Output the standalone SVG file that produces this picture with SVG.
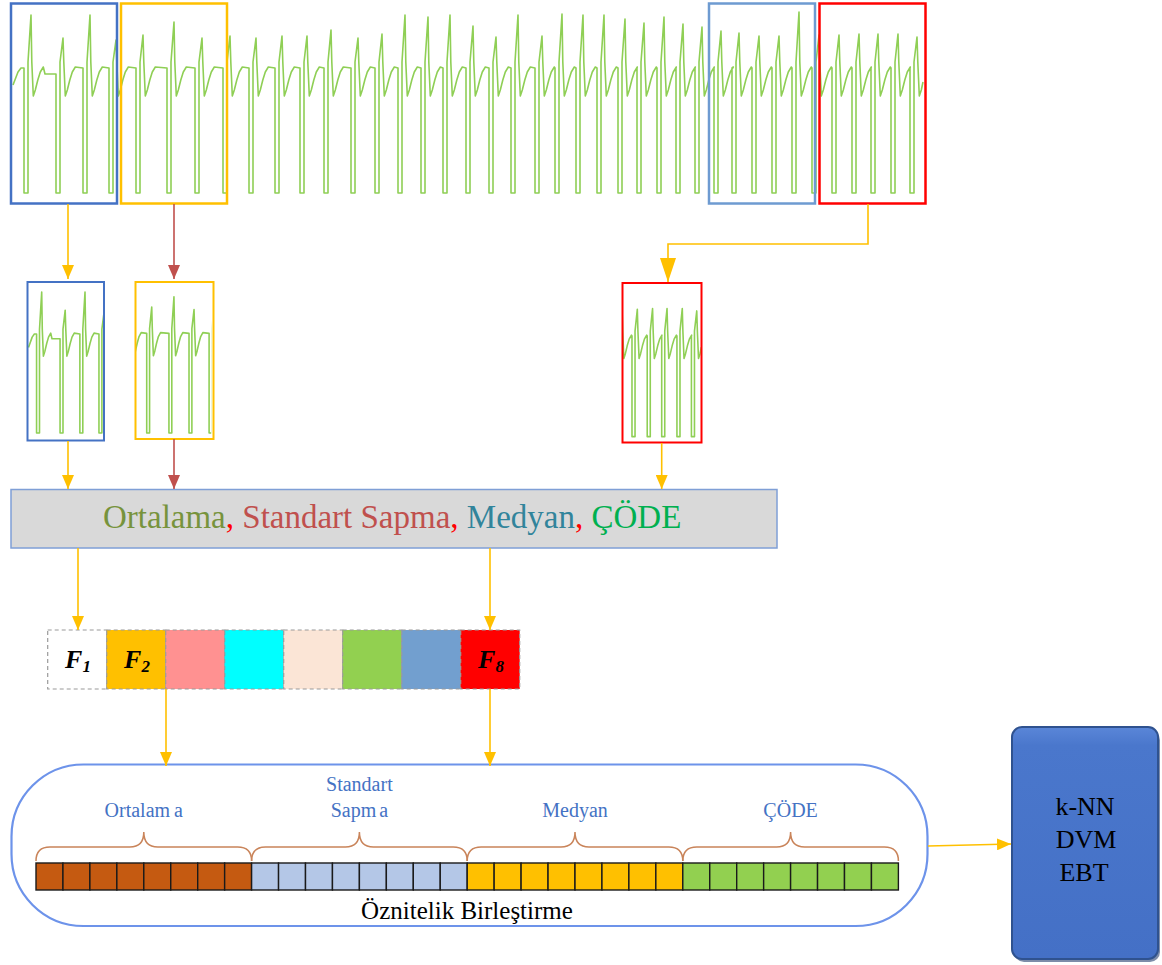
<svg xmlns="http://www.w3.org/2000/svg" xmlns:xlink="http://www.w3.org/1999/xlink" width="1162" height="965" viewBox="0 0 1162 965">
<style>
.ecg{fill:none;stroke:#8FCF55;stroke-width:1.6;stroke-linejoin:round;vector-effect:non-scaling-stroke}
.box{fill:none;stroke-width:2.5}
.sbox{fill:none;stroke-width:2}
.conn{fill:none;stroke-width:1.6}
.or{stroke:#FFC000}
.br{stroke:#C0504D}
.fc{stroke:#9A9A9A;stroke-width:1.2;stroke-dasharray:4 3}
.cell{stroke:#1a1a1a;stroke-width:1.4}
.brace{fill:none;stroke:#C9845A;stroke-width:1.5}
.lab{font-family:"Liberation Serif","Times New Roman",serif;font-size:20px;fill:#4472C4;text-anchor:middle}
.fl{font-family:"Liberation Serif","Times New Roman",serif;font-weight:bold;font-style:italic;fill:#000;text-anchor:middle}
.big{font-family:"Liberation Serif","Times New Roman",serif}
</style>
<defs>
<path id="ecg" class="ecg" d="M13,85 L18,72 L21,68
L24,68 V193 h4 V62 L31,15 L31.8,62 l1.5,34 l2,-6 l2.5,-10 l2.5,-8 l3,-5 L45,74
L56,74 V193 h4 V62 L63,38 L63.8,62 l1.5,34 l2,-6 l2.5,-10 l2.5,-8 l3,-5
L83,68 V193 h4 V62 L90,15 L90.8,62 l1.5,34 l2,-6 l2.5,-10 l2.5,-8 l3,-5
L109,68 V193 h4 V62 L116,40 L116.8,62 l1.5,34 l2,-6 l2.5,-10 l2.5,-8 l3,-5
L136,68 V193 h4 V62 L143,35 L143.8,62 l1.5,34 l2,-6 l2.5,-10 l2.5,-8 l3,-5
L167,68 V193 h4 V62 L174,22 L174.8,62 l1.5,34 l2,-6 l2.5,-10 l2.5,-8 l3,-5
L195,68 V193 h4 V62 L202,38 L202.8,62 l1.5,34 l2,-6 l2.5,-10 l2.5,-8 l3,-5
L223,68 V193 h4 V62 L230,36 L230.8,62 l1.5,34 l2,-6 l2.5,-10 l2.5,-8 l3,-5
L249,68 V193 h4 V62 L256,38 L256.8,62 l1.5,34 l2,-6 l2.5,-10 l2.5,-8 l3,-5
L275,68 V193 h4 V62 L282,36 L282.8,62 l1.5,34 l2,-6 l2.5,-10 l2.5,-8 l3,-5
L300,68 V193 h4 V62 L307,36 L307.8,62 l1.5,34 l2,-6 l2.5,-10 l2.5,-8 l3,-5
L324,68 V193 h4 V62 L331,30 L331.8,62 l1.5,34 l2,-6 l2.5,-10 l2.5,-8 l3,-5
L351,68 V193 h4 V62 L358,38 L358.8,62 l1.5,34 l2,-6 l2.5,-10 l2.5,-8 l3,-5
L375,68 V193 h4 V62 L382,34 L382.8,62 l1.5,34 l2,-6 l2.5,-10 l2.5,-8 l3,-5
L398,68 V193 h4 V62 L405,15 L405.8,62 l1.5,34 l2,-6 l2.5,-10 l2.5,-8 l3,-5
L421,68 V193 h4 V62 L428,17 L428.8,62 l1.5,34 l2,-6 l2.5,-10 l2.5,-8 l3,-5
L443,68 V193 h4 V62 L450,15 L450.8,62 l1.5,34 l2,-6 l2.5,-10 l2.5,-8 l3,-5
L466,68 V193 h4 V62 L473,26 L473.8,62 l1.5,34 l2,-6 l2.5,-10 l2.5,-8 l3,-5
L489,68 V193 h4 V62 L496,37 L496.8,62 l1.5,34 l2,-6 l2.5,-10 l2.5,-8 l3,-5
L511,68 V193 h4 V62 L518,15 L518.8,62 l1.5,34 l2,-6 l2.5,-10 l2.5,-8 l3,-5
L535,68 V193 h4 V62 L542,36 L542.8,62 l1.5,34 l2,-6 l2.5,-10 l2.5,-8 l3,-5
L555,68 V193 h4 V62 L562,14 L562.8,62 l1.5,34 l2,-6 l2.5,-10 l2.5,-8 l3,-5
L576,68 V193 h4 V62 L583,15 L583.8,62 l1.5,34 l2,-6 l2.5,-10 l2.5,-8 l3,-5
L597,68 V193 h4 V62 L604,15 L604.8,62 l1.5,34 l2,-6 l2.5,-10 l2.5,-8 l3,-5
L618,68 V193 h4 V62 L625,19 L625.8,62 l1.5,34 l2,-6 l2.5,-10 l2.5,-8 l3,-5
L637,68 V193 h4 V62 L644,23 L644.8,62 l1.5,34 l2,-6 l2.5,-10 l2.5,-8 l3,-5
L657,68 V193 h4 V62 L664,17 L664.8,62 l1.5,34 l2,-6 l2.5,-10 l2.5,-8 l3,-5
L676,68 V193 h4 V62 L683,24 L683.8,62 l1.5,34 l2,-6 l2.5,-10 l2.5,-8 l3,-5
L695,68 V193 h4 V62 L702,27 L702.8,62 l1.5,34 l2,-6 l2.5,-10 l2.5,-8 l3,-5
L714,68 V193 h4 V62 L721,31 L721.8,62 l1.5,34 l2,-6 l2.5,-10 l2.5,-8 l3,-5
L732,68 V193 h4 V62 L739,33 L739.8,62 l1.5,34 l2,-6 l2.5,-10 l2.5,-8 l3,-5
L752,68 V193 h4 V62 L759,36 L759.8,62 l1.5,34 l2,-6 l2.5,-10 l2.5,-8 l3,-5
L772,68 V193 h4 V62 L779,36 L779.8,62 l1.5,34 l2,-6 l2.5,-10 l2.5,-8 l3,-5
L792,68 V193 h4 V62 L799,12 L799.8,62 l1.5,34 l2,-6 l2.5,-10 l2.5,-8 l3,-5
L812,68 V193 h4 V62 L819,35 L819.8,62 l1.5,34 l2,-6 l2.5,-10 l2.5,-8 l3,-5
L832,68 V193 h4 V62 L839,35 L839.8,62 l1.5,34 l2,-6 l2.5,-10 l2.5,-8 l3,-5
L852,68 V193 h4 V62 L859,34 L859.8,62 l1.5,34 l2,-6 l2.5,-10 l2.5,-8 l3,-5
L871,68 V193 h4 V62 L878,34 L878.8,62 l1.5,34 l2,-6 l2.5,-10 l2.5,-8 l3,-5
L891,68 V193 h4 V62 L898,34 L898.8,62 l1.5,34 l2,-6 l2.5,-10 l2.5,-8 l3,-5
L910,68 V193 h4 V62 L917,37 L917.8,62 l1.5,34 l2,-6 L923,82"/>
<clipPath id="cpBlue" clipPathUnits="userSpaceOnUse"><rect x="12" y="0" width="105" height="205"/></clipPath>
<clipPath id="cpYel" clipPathUnits="userSpaceOnUse"><rect x="121" y="0" width="105" height="205"/></clipPath>
<clipPath id="cpRed" clipPathUnits="userSpaceOnUse"><rect x="819" y="0" width="106" height="205"/></clipPath>
<marker id="aO" markerUnits="userSpaceOnUse" markerWidth="14" markerHeight="12" refX="14" refY="6" orient="auto"><path d="M0,0 L14,6 L0,12 z" fill="#FFC000"/></marker>
<marker id="aB" markerUnits="userSpaceOnUse" markerWidth="14" markerHeight="12" refX="14" refY="6" orient="auto"><path d="M0,0 L14,6 L0,12 z" fill="#C0504D"/></marker>
<marker id="aOL" markerUnits="userSpaceOnUse" markerWidth="24" markerHeight="16" refX="24" refY="8" orient="auto"><path d="M0,0 L24,8 L0,16 z" fill="#FFC000"/></marker>
<linearGradient id="gk" x1="0" y1="0" x2="0" y2="1"><stop offset="0" stop-color="#5A86D8"/><stop offset="0.08" stop-color="#4A77CC"/><stop offset="1" stop-color="#4470C6"/></linearGradient>
</defs>

<g id="signal">
<use href="#ecg"/>
</g>
<g id="win-blue"><rect class="box" x="11" y="3.5" width="106" height="200" stroke="#4472C4"/></g>
<g id="win-yellow"><rect class="box" x="121" y="3.5" width="106" height="200" stroke="#FFC000"/></g>
<g id="win-lightblue"><rect class="box" x="709" y="3.5" width="106" height="200" stroke="#6E9BD1"/></g>
<g id="win-red"><rect class="box" x="819.5" y="3.5" width="106" height="200" stroke="#FF0000"/></g>

<g id="seg-blue">
<g transform="translate(18.95,280.1) scale(0.734,0.792)"><use href="#ecg" clip-path="url(#cpBlue)"/></g>
<rect class="sbox" x="27.5" y="282" width="76.5" height="158.5" stroke="#4472C4"/>
</g>
<g id="seg-yellow">
<g transform="translate(49.2,279.2) scale(0.717,0.797)"><use href="#ecg" clip-path="url(#cpYel)"/></g>
<rect class="sbox" x="135.5" y="282" width="78" height="157" stroke="#FFC000"/>
</g>
<g id="seg-red">
<g transform="translate(-2,281.1) scale(0.762,0.806)"><use href="#ecg" clip-path="url(#cpRed)"/></g>
<rect class="sbox" x="622.5" y="283" width="79" height="159.5" stroke="#FF0000"/>
</g>

<g id="stats">
<rect x="11" y="489.5" width="766" height="58.5" fill="#D9D9D9" stroke="#7F9FD6" stroke-width="1.5"/>
<text class="big" x="103" y="528" font-size="33"><tspan fill="#77933C">Ortalama</tspan><tspan fill="#FF0000">,</tspan><tspan fill="#C0504D"> Standart Sapma</tspan><tspan fill="#FF0000">,</tspan><tspan fill="#31849B"> Medyan</tspan><tspan fill="#FF0000">,</tspan><tspan fill="#00B050"> ÇÖDE</tspan></text>
</g>

<g id="features">
<rect class="fc" x="47.7" y="630" width="59" height="59" fill="#FFFFFF"/>
<rect class="fc" x="106.7" y="630" width="59" height="59" fill="#FFC000"/>
<rect class="fc" x="165.7" y="630" width="59" height="59" fill="#FF9191"/>
<rect class="fc" x="224.7" y="630" width="59" height="59" fill="#00FFFF"/>
<rect class="fc" x="283.7" y="630" width="59" height="59" fill="#FBE5D6"/>
<rect class="fc" x="342.7" y="630" width="59" height="59" fill="#92D050"/>
<rect class="fc" x="401.7" y="630" width="59" height="59" fill="#729FCF"/>
<rect class="fc" x="460.7" y="630" width="59" height="59" fill="#FF0000"/>
<text class="fl" x="78" y="668" font-size="26">F<tspan font-size="17" dy="4">1</tspan></text>
<text class="fl" x="137" y="668" font-size="26">F<tspan font-size="17" dy="4">2</tspan></text>
<text class="fl" x="491" y="668" font-size="26">F<tspan font-size="17" dy="4">8</tspan></text>
</g>

<g id="fusion">
<rect x="11.5" y="764.5" width="916" height="161.5" rx="72" ry="72" fill="#FFFFFF" stroke="#6D93EA" stroke-width="2.2"/>
<path class="brace" d="M36,861 Q36,847 50,847 H129.8 Q143.8,847 143.8,832 Q143.8,847 157.8,847 H237.6 Q251.6,847 251.6,861"/>
<path class="brace" d="M251.6,861 Q251.6,847 265.6,847 H345.4 Q359.4,847 359.4,832 Q359.4,847 373.4,847 H453.2 Q467.2,847 467.2,861"/>
<path class="brace" d="M467.2,861 Q467.2,847 481.2,847 H561 Q575,847 575,832 Q575,847 589,847 H668.8 Q682.8,847 682.8,861"/>
<path class="brace" d="M682.8,861 Q682.8,847 696.8,847 H776.6 Q790.6,847 790.6,832 Q790.6,847 804.6,847 H884.4 Q898.4,847 898.4,861"/>
<text class="lab" x="143.8" y="817">Ortalam<tspan dx="4">a</tspan></text>
<text class="lab" x="359.4" y="791">Standart</text>
<text class="lab" x="359.4" y="817">Sapm<tspan dx="3">a</tspan></text>
<text class="lab" x="575" y="817">Medyan</text>
<text class="lab" x="790.6" y="817">ÇÖDE</text>
<g class="cell" fill="#C55A11">
<rect x="36" y="863" width="26.95" height="27"/><rect x="62.95" y="863" width="26.95" height="27"/><rect x="89.9" y="863" width="26.95" height="27"/><rect x="116.85" y="863" width="26.95" height="27"/><rect x="143.8" y="863" width="26.95" height="27"/><rect x="170.75" y="863" width="26.95" height="27"/><rect x="197.7" y="863" width="26.95" height="27"/><rect x="224.65" y="863" width="26.95" height="27"/>
</g>
<g class="cell" fill="#B4C7E7">
<rect x="251.6" y="863" width="26.95" height="27"/><rect x="278.55" y="863" width="26.95" height="27"/><rect x="305.5" y="863" width="26.95" height="27"/><rect x="332.45" y="863" width="26.95" height="27"/><rect x="359.4" y="863" width="26.95" height="27"/><rect x="386.35" y="863" width="26.95" height="27"/><rect x="413.3" y="863" width="26.95" height="27"/><rect x="440.25" y="863" width="26.95" height="27"/>
</g>
<g class="cell" fill="#FFC000">
<rect x="467.2" y="863" width="26.95" height="27"/><rect x="494.15" y="863" width="26.95" height="27"/><rect x="521.1" y="863" width="26.95" height="27"/><rect x="548.05" y="863" width="26.95" height="27"/><rect x="575" y="863" width="26.95" height="27"/><rect x="601.95" y="863" width="26.95" height="27"/><rect x="628.9" y="863" width="26.95" height="27"/><rect x="655.85" y="863" width="26.95" height="27"/>
</g>
<g class="cell" fill="#92D050">
<rect x="682.8" y="863" width="26.95" height="27"/><rect x="709.75" y="863" width="26.95" height="27"/><rect x="736.7" y="863" width="26.95" height="27"/><rect x="763.65" y="863" width="26.95" height="27"/><rect x="790.6" y="863" width="26.95" height="27"/><rect x="817.55" y="863" width="26.95" height="27"/><rect x="844.5" y="863" width="26.95" height="27"/><rect x="871.45" y="863" width="26.95" height="27"/>
</g>
<text class="big" x="467" y="919" font-size="25" text-anchor="middle" fill="#000">Öznitelik Birleştirme</text>
</g>

<g id="classifier">
<rect x="1014" y="730" width="146" height="232" rx="10" ry="10" fill="#27406F" opacity="0.6"/>
<rect x="1012" y="727" width="146" height="232" rx="10" ry="10" fill="url(#gk)" stroke="#2F528F" stroke-width="2"/>
<text class="big" font-size="26" text-anchor="middle" fill="#000"><tspan x="1085" y="815">k-NN</tspan><tspan x="1086" y="848">DVM</tspan><tspan x="1084" y="881">EBT</tspan></text>
</g>

<g id="connectors">
<path class="conn or" d="M68,204 V279" marker-end="url(#aO)"/>
<path class="conn br" d="M174,204 V279" marker-end="url(#aB)"/>
<path class="conn or" d="M868,204 V244 H668 V282" stroke-width="2.6" marker-end="url(#aOL)"/>
<path class="conn or" d="M68,441 V489" marker-end="url(#aO)"/>
<path class="conn br" d="M174,439 V489" marker-end="url(#aB)"/>
<path class="conn or" d="M661.7,443 V489" marker-end="url(#aO)"/>
<path class="conn or" d="M78,548 V630" marker-end="url(#aO)"/>
<path class="conn or" d="M490,548 V630" marker-end="url(#aO)"/>
<path class="conn or" d="M166,689 V766" marker-end="url(#aO)"/>
<path class="conn or" d="M490,689 V766" marker-end="url(#aO)"/>
<path class="conn or" d="M928,846 L1011,844" marker-end="url(#aO)"/>
</g>
</svg>
